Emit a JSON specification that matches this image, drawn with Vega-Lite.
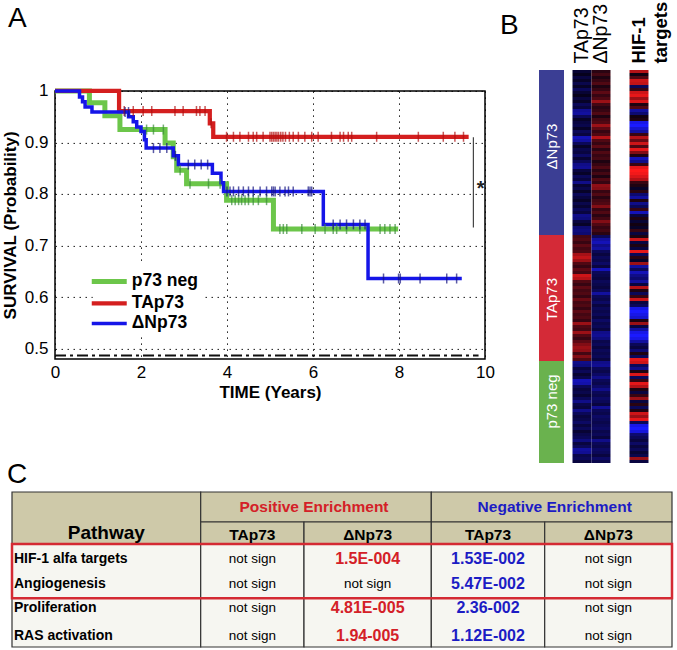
{
  "$schema": "https://vega.github.io/schema/vega-lite/v6.json",
  "background": "white",
  "padding": {"left": 0, "top": 1, "right": 0, "bottom": 0},
  "config": {
    "font": "Liberation Sans",
    "view": {"stroke": null},
    "title": {"font": "Liberation Sans", "fontWeight": "normal", "fontSize": 28, "anchor": "start", "frame": "group", "color": "#000"}
  },
  "datasets": {
    "km": [
      {"t": 0, "s": 1, "series": "p73 neg"}, {"t": 0.80, "s": 0.977, "series": "p73 neg"}, {"t": 1.16, "s": 0.952, "series": "p73 neg"}, {"t": 1.51, "s": 0.925, "series": "p73 neg"}, {"t": 2.56, "s": 0.899, "series": "p73 neg"}, {"t": 2.75, "s": 0.872, "series": "p73 neg"}, {"t": 2.83, "s": 0.846, "series": "p73 neg"}, {"t": 3.06, "s": 0.820, "series": "p73 neg"}, {"t": 3.99, "s": 0.788, "series": "p73 neg"}, {"t": 5.08, "s": 0.732, "series": "p73 neg"}, {"t": 7.98, "s": 0.732, "series": "p73 neg"},
      {"t": 0, "s": 1, "series": "TAp73"}, {"t": 1.49, "s": 0.961, "series": "TAp73"}, {"t": 3.60, "s": 0.937, "series": "TAp73"}, {"t": 3.68, "s": 0.911, "series": "TAp73"}, {"t": 9.62, "s": 0.911, "series": "TAp73"},
      {"t": 0, "s": 1, "series": "ΔNp73"}, {"t": 0.57, "s": 0.988, "series": "ΔNp73"}, {"t": 0.64, "s": 0.979, "series": "ΔNp73"}, {"t": 0.70, "s": 0.969, "series": "ΔNp73"}, {"t": 0.86, "s": 0.959, "series": "ΔNp73"}, {"t": 1.71, "s": 0.950, "series": "ΔNp73"}, {"t": 1.82, "s": 0.940, "series": "ΔNp73"}, {"t": 1.90, "s": 0.930, "series": "ΔNp73"}, {"t": 2.0, "s": 0.921, "series": "ΔNp73"}, {"t": 2.08, "s": 0.905, "series": "ΔNp73"}, {"t": 2.12, "s": 0.889, "series": "ΔNp73"}, {"t": 2.75, "s": 0.874, "series": "ΔNp73"}, {"t": 2.87, "s": 0.857, "series": "ΔNp73"}, {"t": 3.66, "s": 0.840, "series": "ΔNp73"}, {"t": 3.86, "s": 0.822, "series": "ΔNp73"}, {"t": 3.92, "s": 0.805, "series": "ΔNp73"}, {"t": 6.24, "s": 0.741, "series": "ΔNp73"}, {"t": 7.28, "s": 0.636, "series": "ΔNp73"}, {"t": 9.46, "s": 0.636, "series": "ΔNp73"}
    ],
    "cens": [
      {"t": 2.13, "s": 0.925, "series": "p73 neg"}, {"t": 2.29, "s": 0.925, "series": "p73 neg"}, {"t": 2.52, "s": 0.925, "series": "p73 neg"}, {"t": 2.91, "s": 0.846, "series": "p73 neg"}, {"t": 3.14, "s": 0.820, "series": "p73 neg"}, {"t": 3.57, "s": 0.820, "series": "p73 neg"}, {"t": 3.84, "s": 0.820, "series": "p73 neg"},
      {"t": 4.11, "s": 0.788, "series": "p73 neg"}, {"t": 4.19, "s": 0.788, "series": "p73 neg"}, {"t": 4.27, "s": 0.788, "series": "p73 neg"}, {"t": 4.34, "s": 0.788, "series": "p73 neg"}, {"t": 4.42, "s": 0.788, "series": "p73 neg"}, {"t": 4.50, "s": 0.788, "series": "p73 neg"}, {"t": 4.61, "s": 0.788, "series": "p73 neg"}, {"t": 4.73, "s": 0.788, "series": "p73 neg"}, {"t": 4.92, "s": 0.788, "series": "p73 neg"},
      {"t": 5.23, "s": 0.732, "series": "p73 neg"}, {"t": 5.31, "s": 0.732, "series": "p73 neg"}, {"t": 5.39, "s": 0.732, "series": "p73 neg"}, {"t": 5.74, "s": 0.732, "series": "p73 neg"}, {"t": 6.05, "s": 0.732, "series": "p73 neg"}, {"t": 6.28, "s": 0.732, "series": "p73 neg"}, {"t": 6.47, "s": 0.732, "series": "p73 neg"}, {"t": 6.55, "s": 0.732, "series": "p73 neg"}, {"t": 6.78, "s": 0.732, "series": "p73 neg"}, {"t": 7.09, "s": 0.732, "series": "p73 neg"}, {"t": 7.56, "s": 0.732, "series": "p73 neg"}, {"t": 7.67, "s": 0.732, "series": "p73 neg"}, {"t": 7.79, "s": 0.732, "series": "p73 neg"}, {"t": 7.91, "s": 0.732, "series": "p73 neg"},
      {"t": 1.61, "s": 0.961, "series": "TAp73"}, {"t": 1.82, "s": 0.961, "series": "TAp73"}, {"t": 2.05, "s": 0.961, "series": "TAp73"}, {"t": 2.25, "s": 0.961, "series": "TAp73"}, {"t": 2.79, "s": 0.961, "series": "TAp73"}, {"t": 2.98, "s": 0.961, "series": "TAp73"}, {"t": 3.29, "s": 0.961, "series": "TAp73"}, {"t": 3.37, "s": 0.961, "series": "TAp73"}, {"t": 3.49, "s": 0.961, "series": "TAp73"}, {"t": 3.63, "s": 0.937, "series": "TAp73"},
      {"t": 3.99, "s": 0.911, "series": "TAp73"}, {"t": 4.15, "s": 0.911, "series": "TAp73"}, {"t": 4.30, "s": 0.911, "series": "TAp73"}, {"t": 4.50, "s": 0.911, "series": "TAp73"}, {"t": 4.61, "s": 0.911, "series": "TAp73"}, {"t": 4.69, "s": 0.911, "series": "TAp73"}, {"t": 4.84, "s": 0.911, "series": "TAp73"}, {"t": 5.00, "s": 0.911, "series": "TAp73"}, {"t": 5.04, "s": 0.911, "series": "TAp73"}, {"t": 5.08, "s": 0.911, "series": "TAp73"}, {"t": 5.12, "s": 0.911, "series": "TAp73"}, {"t": 5.16, "s": 0.911, "series": "TAp73"}, {"t": 5.20, "s": 0.911, "series": "TAp73"}, {"t": 5.25, "s": 0.911, "series": "TAp73"}, {"t": 5.30, "s": 0.911, "series": "TAp73"}, {"t": 5.36, "s": 0.911, "series": "TAp73"}, {"t": 5.45, "s": 0.911, "series": "TAp73"}, {"t": 5.54, "s": 0.911, "series": "TAp73"}, {"t": 5.66, "s": 0.911, "series": "TAp73"}, {"t": 5.81, "s": 0.911, "series": "TAp73"}, {"t": 5.97, "s": 0.911, "series": "TAp73"}, {"t": 6.12, "s": 0.911, "series": "TAp73"}, {"t": 6.43, "s": 0.911, "series": "TAp73"}, {"t": 6.63, "s": 0.911, "series": "TAp73"}, {"t": 6.71, "s": 0.911, "series": "TAp73"}, {"t": 6.82, "s": 0.911, "series": "TAp73"}, {"t": 6.90, "s": 0.911, "series": "TAp73"}, {"t": 7.48, "s": 0.911, "series": "TAp73"}, {"t": 8.45, "s": 0.911, "series": "TAp73"}, {"t": 9.03, "s": 0.911, "series": "TAp73"}, {"t": 9.30, "s": 0.911, "series": "TAp73"}, {"t": 9.50, "s": 0.911, "series": "TAp73"},
      {"t": 1.63, "s": 0.959, "series": "ΔNp73"}, {"t": 1.71, "s": 0.959, "series": "ΔNp73"}, {"t": 2.29, "s": 0.889, "series": "ΔNp73"}, {"t": 2.44, "s": 0.889, "series": "ΔNp73"}, {"t": 2.60, "s": 0.889, "series": "ΔNp73"}, {"t": 2.80, "s": 0.874, "series": "ΔNp73"}, {"t": 3.10, "s": 0.857, "series": "ΔNp73"}, {"t": 3.25, "s": 0.857, "series": "ΔNp73"}, {"t": 3.40, "s": 0.857, "series": "ΔNp73"}, {"t": 3.55, "s": 0.857, "series": "ΔNp73"},
      {"t": 4.00, "s": 0.805, "series": "ΔNp73"}, {"t": 4.07, "s": 0.805, "series": "ΔNp73"}, {"t": 4.15, "s": 0.805, "series": "ΔNp73"}, {"t": 4.27, "s": 0.805, "series": "ΔNp73"}, {"t": 4.38, "s": 0.805, "series": "ΔNp73"}, {"t": 4.50, "s": 0.805, "series": "ΔNp73"}, {"t": 4.61, "s": 0.805, "series": "ΔNp73"}, {"t": 4.77, "s": 0.805, "series": "ΔNp73"}, {"t": 4.92, "s": 0.805, "series": "ΔNp73"}, {"t": 5.04, "s": 0.805, "series": "ΔNp73"}, {"t": 5.08, "s": 0.805, "series": "ΔNp73"}, {"t": 5.12, "s": 0.805, "series": "ΔNp73"}, {"t": 5.23, "s": 0.805, "series": "ΔNp73"}, {"t": 5.35, "s": 0.805, "series": "ΔNp73"}, {"t": 5.43, "s": 0.805, "series": "ΔNp73"}, {"t": 5.54, "s": 0.805, "series": "ΔNp73"}, {"t": 5.89, "s": 0.805, "series": "ΔNp73"}, {"t": 5.93, "s": 0.805, "series": "ΔNp73"}, {"t": 5.97, "s": 0.805, "series": "ΔNp73"},
      {"t": 6.47, "s": 0.741, "series": "ΔNp73"}, {"t": 6.63, "s": 0.741, "series": "ΔNp73"}, {"t": 6.78, "s": 0.741, "series": "ΔNp73"}, {"t": 6.94, "s": 0.741, "series": "ΔNp73"}, {"t": 7.09, "s": 0.741, "series": "ΔNp73"}, {"t": 7.21, "s": 0.741, "series": "ΔNp73"},
      {"t": 7.64, "s": 0.636, "series": "ΔNp73"}, {"t": 7.99, "s": 0.636, "series": "ΔNp73"}, {"t": 8.03, "s": 0.636, "series": "ΔNp73"}, {"t": 8.49, "s": 0.636, "series": "ΔNp73"}, {"t": 9.11, "s": 0.636, "series": "ΔNp73"}, {"t": 9.34, "s": 0.636, "series": "ΔNp73"}
    ],
    "heat": [
      {"r":0,"g":"ΔNp73","tap73":-0.15,"dnp73":0.15,"hif1":0.7},
      {"r":1,"g":"ΔNp73","tap73":-0.05,"dnp73":0.25,"hif1":0.05},
      {"r":2,"g":"ΔNp73","tap73":-0.2,"dnp73":0.1,"hif1":0.3},
      {"r":3,"g":"ΔNp73","tap73":-0.1,"dnp73":0.2,"hif1":0.8},
      {"r":4,"g":"ΔNp73","tap73":-0.25,"dnp73":0.3,"hif1":0.75},
      {"r":5,"g":"ΔNp73","tap73":-0.1,"dnp73":0.1,"hif1":-0.3},
      {"r":6,"g":"ΔNp73","tap73":-0.3,"dnp73":0.2,"hif1":0.2},
      {"r":7,"g":"ΔNp73","tap73":-0.15,"dnp73":0.35,"hif1":0.8},
      {"r":8,"g":"ΔNp73","tap73":-0.05,"dnp73":0.2,"hif1":0.9},
      {"r":9,"g":"ΔNp73","tap73":-0.2,"dnp73":0.3,"hif1":0.6},
      {"r":10,"g":"ΔNp73","tap73":-0.1,"dnp73":0.6,"hif1":0.85},
      {"r":11,"g":"ΔNp73","tap73":-0.3,"dnp73":0.25,"hif1":0.1},
      {"r":12,"g":"ΔNp73","tap73":-0.2,"dnp73":0.15,"hif1":0.3},
      {"r":13,"g":"ΔNp73","tap73":-0.55,"dnp73":0.2,"hif1":-0.6},
      {"r":14,"g":"ΔNp73","tap73":-0.6,"dnp73":0.3,"hif1":-0.4},
      {"r":15,"g":"ΔNp73","tap73":-0.3,"dnp73":0.1,"hif1":0.05},
      {"r":16,"g":"ΔNp73","tap73":-0.1,"dnp73":0.25,"hif1":0.1},
      {"r":17,"g":"ΔNp73","tap73":-0.2,"dnp73":0.3,"hif1":-0.9},
      {"r":18,"g":"ΔNp73","tap73":-0.25,"dnp73":0.6,"hif1":-1},
      {"r":19,"g":"ΔNp73","tap73":-0.1,"dnp73":0.35,"hif1":-0.8},
      {"r":20,"g":"ΔNp73","tap73":-0.3,"dnp73":0.2,"hif1":-0.6},
      {"r":21,"g":"ΔNp73","tap73":-0.2,"dnp73":0.3,"hif1":0.2},
      {"r":22,"g":"ΔNp73","tap73":-0.7,"dnp73":0.7,"hif1":0.7},
      {"r":23,"g":"ΔNp73","tap73":-0.6,"dnp73":0.3,"hif1":0.4},
      {"r":24,"g":"ΔNp73","tap73":-0.3,"dnp73":0.2,"hif1":0.8},
      {"r":25,"g":"ΔNp73","tap73":-0.1,"dnp73":0.35,"hif1":0.3},
      {"r":26,"g":"ΔNp73","tap73":-0.25,"dnp73":0.15,"hif1":0.9},
      {"r":27,"g":"ΔNp73","tap73":-0.2,"dnp73":0.3,"hif1":0.5},
      {"r":28,"g":"ΔNp73","tap73":-0.35,"dnp73":0.2,"hif1":0.1},
      {"r":29,"g":"ΔNp73","tap73":-0.15,"dnp73":0.25,"hif1":-0.7},
      {"r":30,"g":"ΔNp73","tap73":-0.3,"dnp73":0.1,"hif1":-0.5},
      {"r":31,"g":"ΔNp73","tap73":-0.5,"dnp73":0.2,"hif1":0.2},
      {"r":32,"g":"ΔNp73","tap73":-0.55,"dnp73":0.3,"hif1":0.9},
      {"r":33,"g":"ΔNp73","tap73":-0.2,"dnp73":0.15,"hif1":1},
      {"r":34,"g":"ΔNp73","tap73":-0.1,"dnp73":0.25,"hif1":0.95},
      {"r":35,"g":"ΔNp73","tap73":-0.3,"dnp73":0.1,"hif1":0.85},
      {"r":36,"g":"ΔNp73","tap73":-0.2,"dnp73":0.3,"hif1":0.7},
      {"r":37,"g":"ΔNp73","tap73":-0.5,"dnp73":0.2,"hif1":0.2},
      {"r":38,"g":"ΔNp73","tap73":-0.15,"dnp73":0.55,"hif1":0.1},
      {"r":39,"g":"ΔNp73","tap73":-0.25,"dnp73":0.5,"hif1":-0.1},
      {"r":40,"g":"ΔNp73","tap73":-0.1,"dnp73":0.2,"hif1":0.15},
      {"r":41,"g":"ΔNp73","tap73":-0.3,"dnp73":0.3,"hif1":-0.4},
      {"r":42,"g":"ΔNp73","tap73":-0.2,"dnp73":0.15,"hif1":-0.6},
      {"r":43,"g":"ΔNp73","tap73":-0.1,"dnp73":0.25,"hif1":0.1},
      {"r":44,"g":"ΔNp73","tap73":-0.25,"dnp73":0.3,"hif1":-0.5},
      {"r":45,"g":"ΔNp73","tap73":-0.15,"dnp73":0.5,"hif1":-0.3},
      {"r":46,"g":"ΔNp73","tap73":-0.3,"dnp73":0.2,"hif1":0.2},
      {"r":47,"g":"ΔNp73","tap73":-0.2,"dnp73":0.3,"hif1":-0.7},
      {"r":48,"g":"ΔNp73","tap73":-0.5,"dnp73":0.15,"hif1":-0.2},
      {"r":49,"g":"ΔNp73","tap73":-0.45,"dnp73":0.25,"hif1":0.1},
      {"r":50,"g":"ΔNp73","tap73":-0.2,"dnp73":0.5,"hif1":-0.15},
      {"r":51,"g":"ΔNp73","tap73":-0.1,"dnp73":0.3,"hif1":0.05},
      {"r":52,"g":"ΔNp73","tap73":-0.4,"dnp73":0.2,"hif1":-0.1},
      {"r":53,"g":"ΔNp73","tap73":-0.45,"dnp73":0.25,"hif1":0.2},
      {"r":54,"g":"ΔNp73","tap73":-0.4,"dnp73":0.15,"hif1":-0.2},
      {"r":55,"g":"TAp73","tap73":0.25,"dnp73":-0.3,"hif1":0.1},
      {"r":56,"g":"TAp73","tap73":0.3,"dnp73":-0.6,"hif1":0.8},
      {"r":57,"g":"TAp73","tap73":0.2,"dnp73":-0.7,"hif1":-0.2},
      {"r":58,"g":"TAp73","tap73":0.35,"dnp73":-0.5,"hif1":0.1},
      {"r":59,"g":"TAp73","tap73":0.25,"dnp73":-0.6,"hif1":-0.2},
      {"r":60,"g":"TAp73","tap73":0.3,"dnp73":-0.3,"hif1":0.9},
      {"r":61,"g":"TAp73","tap73":0.65,"dnp73":-0.2,"hif1":-0.3},
      {"r":62,"g":"TAp73","tap73":0.75,"dnp73":-0.3,"hif1":0.15},
      {"r":63,"g":"TAp73","tap73":0.6,"dnp73":-0.25,"hif1":-0.1},
      {"r":64,"g":"TAp73","tap73":0.3,"dnp73":-0.35,"hif1":0.6},
      {"r":65,"g":"TAp73","tap73":0.2,"dnp73":-0.2,"hif1":-0.6},
      {"r":66,"g":"TAp73","tap73":0.35,"dnp73":-0.7,"hif1":-0.3},
      {"r":67,"g":"TAp73","tap73":0.25,"dnp73":-0.3,"hif1":-0.7},
      {"r":68,"g":"TAp73","tap73":0.8,"dnp73":-0.25,"hif1":-0.5},
      {"r":69,"g":"TAp73","tap73":0.7,"dnp73":-0.2,"hif1":-0.4},
      {"r":70,"g":"TAp73","tap73":0.3,"dnp73":-0.3,"hif1":-0.6},
      {"r":71,"g":"TAp73","tap73":0.2,"dnp73":-0.25,"hif1":-0.2},
      {"r":72,"g":"TAp73","tap73":0.35,"dnp73":-0.2,"hif1":0.7},
      {"r":73,"g":"TAp73","tap73":0.25,"dnp73":-0.3,"hif1":0.1},
      {"r":74,"g":"TAp73","tap73":0.3,"dnp73":-0.6,"hif1":-0.3},
      {"r":75,"g":"TAp73","tap73":0.2,"dnp73":-0.3,"hif1":0.2},
      {"r":76,"g":"TAp73","tap73":0.4,"dnp73":-0.25,"hif1":0.8},
      {"r":77,"g":"TAp73","tap73":0.25,"dnp73":-0.35,"hif1":-0.2},
      {"r":78,"g":"TAp73","tap73":0.3,"dnp73":-0.2,"hif1":-0.3},
      {"r":79,"g":"TAp73","tap73":0.2,"dnp73":-0.3,"hif1":-0.9},
      {"r":80,"g":"TAp73","tap73":0.35,"dnp73":-0.25,"hif1":-1},
      {"r":81,"g":"TAp73","tap73":0.25,"dnp73":-0.3,"hif1":-0.9},
      {"r":82,"g":"TAp73","tap73":0.3,"dnp73":-0.2,"hif1":-0.8},
      {"r":83,"g":"TAp73","tap73":0.2,"dnp73":-0.35,"hif1":0.1},
      {"r":84,"g":"TAp73","tap73":0.6,"dnp73":-0.25,"hif1":0.6},
      {"r":85,"g":"TAp73","tap73":0.3,"dnp73":-0.3,"hif1":-0.2},
      {"r":86,"g":"TAp73","tap73":0.25,"dnp73":-0.2,"hif1":-0.6},
      {"r":87,"g":"TAp73","tap73":0.6,"dnp73":-0.5,"hif1":-0.9},
      {"r":88,"g":"TAp73","tap73":0.3,"dnp73":-0.55,"hif1":-1},
      {"r":89,"g":"TAp73","tap73":0.2,"dnp73":-0.45,"hif1":-0.9},
      {"r":90,"g":"TAp73","tap73":0.35,"dnp73":-0.25,"hif1":-0.6},
      {"r":91,"g":"TAp73","tap73":0.5,"dnp73":-0.3,"hif1":-0.3},
      {"r":92,"g":"TAp73","tap73":0.6,"dnp73":-0.2,"hif1":-0.2},
      {"r":93,"g":"TAp73","tap73":0.55,"dnp73":-0.3,"hif1":-0.4},
      {"r":94,"g":"TAp73","tap73":0.25,"dnp73":-0.25,"hif1":0.1},
      {"r":95,"g":"TAp73","tap73":0.5,"dnp73":-0.3,"hif1":-0.3},
      {"r":96,"g":"TAp73","tap73":0.3,"dnp73":-0.2,"hif1":0.9},
      {"r":97,"g":"p73 neg","tap73":-0.5,"dnp73":-0.5,"hif1":0.8},
      {"r":98,"g":"p73 neg","tap73":-0.45,"dnp73":-0.55,"hif1":-0.3},
      {"r":99,"g":"p73 neg","tap73":-0.2,"dnp73":-0.3,"hif1":-0.5},
      {"r":100,"g":"p73 neg","tap73":-0.3,"dnp73":-0.25,"hif1":0.1},
      {"r":101,"g":"p73 neg","tap73":-0.15,"dnp73":-0.35,"hif1":0.85},
      {"r":102,"g":"p73 neg","tap73":-0.25,"dnp73":-0.5,"hif1":-0.3},
      {"r":103,"g":"p73 neg","tap73":-0.7,"dnp73":-0.3,"hif1":0.2},
      {"r":104,"g":"p73 neg","tap73":-0.65,"dnp73":-0.25,"hif1":0.9},
      {"r":105,"g":"p73 neg","tap73":-0.3,"dnp73":-0.35,"hif1":0.7},
      {"r":106,"g":"p73 neg","tap73":-0.2,"dnp73":-0.5,"hif1":0.1},
      {"r":107,"g":"p73 neg","tap73":-0.25,"dnp73":-0.3,"hif1":-0.2},
      {"r":108,"g":"p73 neg","tap73":-0.15,"dnp73":-0.25,"hif1":0.2},
      {"r":109,"g":"p73 neg","tap73":-0.3,"dnp73":-0.35,"hif1":0.6},
      {"r":110,"g":"p73 neg","tap73":-0.5,"dnp73":-0.3,"hif1":-0.2},
      {"r":111,"g":"p73 neg","tap73":-0.25,"dnp73":-0.2,"hif1":0.15},
      {"r":112,"g":"p73 neg","tap73":-0.2,"dnp73":-0.55,"hif1":-0.3},
      {"r":113,"g":"p73 neg","tap73":-0.5,"dnp73":-0.3,"hif1":0.1},
      {"r":114,"g":"p73 neg","tap73":-0.3,"dnp73":-0.25,"hif1":0.8},
      {"r":115,"g":"p73 neg","tap73":-0.2,"dnp73":-0.35,"hif1":0.6},
      {"r":116,"g":"p73 neg","tap73":-0.25,"dnp73":-0.3,"hif1":0.9},
      {"r":117,"g":"p73 neg","tap73":-0.35,"dnp73":-0.25,"hif1":-0.3},
      {"r":118,"g":"p73 neg","tap73":-0.2,"dnp73":-0.3,"hif1":-0.9},
      {"r":119,"g":"p73 neg","tap73":-0.3,"dnp73":-0.35,"hif1":-1},
      {"r":120,"g":"p73 neg","tap73":-0.15,"dnp73":-0.25,"hif1":-0.85},
      {"r":121,"g":"p73 neg","tap73":-0.25,"dnp73":-0.3,"hif1":-0.4},
      {"r":122,"g":"p73 neg","tap73":-0.3,"dnp73":-0.2,"hif1":-0.3},
      {"r":123,"g":"p73 neg","tap73":-0.45,"dnp73":-0.5,"hif1":-0.2},
      {"r":124,"g":"p73 neg","tap73":-0.2,"dnp73":-0.3,"hif1":-0.35},
      {"r":125,"g":"p73 neg","tap73":-0.3,"dnp73":-0.25,"hif1":-0.2},
      {"r":126,"g":"p73 neg","tap73":-0.6,"dnp73":-0.35,"hif1":-0.3},
      {"r":127,"g":"p73 neg","tap73":-0.55,"dnp73":-0.3,"hif1":-0.15},
      {"r":128,"g":"p73 neg","tap73":-0.25,"dnp73":-0.2,"hif1":-0.25},
      {"r":129,"g":"p73 neg","tap73":-0.3,"dnp73":-0.35,"hif1":0.6},
      {"r":130,"g":"p73 neg","tap73":-0.2,"dnp73":-0.25,"hif1":-0.2}
    ],
    "glab": [
      {"r": 25, "label": "ΔNp73"}, {"r": 76, "label": "TAp73"}, {"r": 110, "label": "p73 neg"}
    ],
    "cells": [
      {"c0":0,"c1":1,"r0":0,"r1":2,"kind":"head"},
      {"c0":1,"c1":3,"r0":0,"r1":1,"kind":"head"},
      {"c0":3,"c1":5,"r0":0,"r1":1,"kind":"head"},
      {"c0":1,"c1":2,"r0":1,"r1":2,"kind":"head"},
      {"c0":2,"c1":3,"r0":1,"r1":2,"kind":"head"},
      {"c0":3,"c1":4,"r0":1,"r1":2,"kind":"head"},
      {"c0":4,"c1":5,"r0":1,"r1":2,"kind":"head"},
      {"c0":0,"c1":1,"r0":2,"r1":6,"kind":"body"},
      {"c0":1,"c1":2,"r0":2,"r1":6,"kind":"body"},
      {"c0":2,"c1":3,"r0":2,"r1":6,"kind":"body"},
      {"c0":3,"c1":4,"r0":2,"r1":6,"kind":"body"},
      {"c0":4,"c1":5,"r0":2,"r1":6,"kind":"body"}
    ],
    "texts": [
      {"cx":0.5,"ry":1.5,"t":"Pathway","w":"path","k":"plain"},
      {"cx":2,"ry":0.5,"t":"Positive Enrichment","w":"enr","k":"pos"},
      {"cx":4,"ry":0.5,"t":"Negative Enrichment","w":"enr","k":"neg"},
      {"cx":1.5,"ry":1.5,"t":"TAp73","w":"sub","k":"plain"},
      {"cx":2.5,"ry":1.5,"t":"ΔNp73","w":"sub","k":"plain"},
      {"cx":3.5,"ry":1.5,"t":"TAp73","w":"sub","k":"plain"},
      {"cx":4.5,"ry":1.5,"t":"ΔNp73","w":"sub","k":"plain"},
      {"cx":0,"ry":2.5,"t":"HIF-1 alfa targets","w":"name","k":"plain"},
      {"cx":0,"ry":3.5,"t":"Angiogenesis","w":"name","k":"plain"},
      {"cx":0,"ry":4.5,"t":"Proliferation","w":"name","k":"plain"},
      {"cx":0,"ry":5.5,"t":"RAS activation","w":"name","k":"plain"},
      {"cx":2.5,"ry":2.5,"t":"1.5E-004","w":"val","k":"pos"},
      {"cx":3.5,"ry":2.5,"t":"1.53E-002","w":"val","k":"neg"},
      {"cx":3.5,"ry":3.5,"t":"5.47E-002","w":"val","k":"neg"},
      {"cx":2.5,"ry":4.5,"t":"4.81E-005","w":"val","k":"pos"},
      {"cx":3.5,"ry":4.5,"t":"2.36-002","w":"val","k":"neg"},
      {"cx":2.5,"ry":5.5,"t":"1.94-005","w":"val","k":"pos"},
      {"cx":3.5,"ry":5.5,"t":"1.12E-002","w":"val","k":"neg"},
      {"cx":1.5,"ry":2.5,"t":"not sign","w":"ns","k":"plain"},
      {"cx":1.5,"ry":3.5,"t":"not sign","w":"ns","k":"plain"},
      {"cx":1.5,"ry":4.5,"t":"not sign","w":"ns","k":"plain"},
      {"cx":1.5,"ry":5.5,"t":"not sign","w":"ns","k":"plain"},
      {"cx":2.5,"ry":3.5,"t":"not sign","w":"ns","k":"plain"},
      {"cx":4.5,"ry":2.5,"t":"not sign","w":"ns","k":"plain"},
      {"cx":4.5,"ry":3.5,"t":"not sign","w":"ns","k":"plain"},
      {"cx":4.5,"ry":4.5,"t":"not sign","w":"ns","k":"plain"},
      {"cx":4.5,"ry":5.5,"t":"not sign","w":"ns","k":"plain"}
    ]
  },
  "columns": 1,
  "align": "none",
  "spacing": -2,
  "resolve": {"scale": {"color": "independent", "fill": "independent", "stroke": "independent", "strokeWidth": "independent"}},
  "concat": [
    {
      "spacing": 4,
      "resolve": {"scale": {"color": "independent", "fill": "independent", "stroke": "independent", "strokeWidth": "independent"}},
      "hconcat": [
        {
          "spacing": 2.9,
          "resolve": {"scale": {"color": "independent", "stroke": "independent", "strokeWidth": "independent"}},
          "vconcat": [
            {
              "width": 430,
              "height": 4,
              "title": {"text": "A", "dx": -47, "offset": 33},
              "data": {"values": [{}]},
              "mark": {"type": "text", "text": ""}
            },
            {
              "width": 430,
              "height": 268,
              "view": {"stroke": "#000", "strokeWidth": 1.5},
              "layer": [
                {
                  "data": {"name": "km"},
                  "mark": {"type": "line", "interpolate": "step-after"},
                  "encoding": {
                    "x": {"field": "t", "type": "quantitative", "scale": {"domain": [0, 10], "nice": false},
                      "axis": {"values": [0, 2, 4, 6, 8, 10], "grid": true, "gridDash": [1.5, 4.5], "gridColor": "#000", "gridOpacity": 0.9, "domain": false, "ticks": false, "labelFontSize": 17, "labelColor": "#000", "labelPadding": 6, "labelFlush": false, "title": "TIME (Years)", "titleFontSize": 17, "titleFontWeight": "bold", "titleColor": "#000", "titlePadding": 4}},
                    "y": {"field": "s", "type": "quantitative", "scale": {"domain": [0.48, 1], "nice": false, "zero": false},
                      "axis": {"values": [0.5, 0.6, 0.7, 0.8, 0.9, 1], "format": "~g", "grid": true, "gridDash": [1.5, 4.5], "gridColor": "#000", "gridOpacity": 0.9, "domain": false, "ticks": false, "labelFontSize": 17, "labelColor": "#000", "labelPadding": 7, "labelFlush": false, "title": "SURVIVAL (Probability)", "titleFontSize": 17, "titleFontWeight": "bold", "titleColor": "#000", "titlePadding": 5}},
                    "stroke": {"field": "series", "type": "nominal", "scale": {"domain": ["p73 neg", "TAp73", "ΔNp73"], "range": ["#6cc64a", "#d41f1f", "#1515e8"]},
                      "legend": {"orient": "none", "legendX": 37.75, "legendY": 174, "title": null, "padding": 5, "fillColor": "#ffffff", "labelFontSize": 17.5, "labelFontWeight": "bold", "labelColor": "#000", "symbolType": "M-2,0H2", "symbolSize": 306, "symbolStrokeWidth": 4.5, "labelOffset": 11, "rowPadding": 0.5}},
                    "strokeWidth": {"field": "series", "type": "nominal", "scale": {"domain": ["p73 neg", "TAp73", "ΔNp73"], "range": [5, 3.5, 5]}, "legend": null}
                  }
                },
                {
                  "data": {"name": "cens"},
                  "mark": {"type": "tick", "orient": "vertical", "size": 10, "thickness": 1.5},
                  "encoding": {
                    "x": {"field": "t", "type": "quantitative"},
                    "y": {"field": "s", "type": "quantitative"},
                    "color": {"field": "series", "type": "nominal", "scale": {"domain": ["p73 neg", "TAp73", "ΔNp73"], "range": ["#3a8c3a", "#b01010", "#141480"]}, "legend": null}
                  }
                },
                {
                  "data": {"values": [{}]},
                  "mark": {"type": "rule", "strokeDash": [11, 4, 3, 4], "strokeWidth": 2, "color": "#111"},
                  "encoding": {"x": {"datum": 0}, "x2": {"datum": 9.85}, "y": {"datum": 0.4865}}
                },
                {
                  "data": {"values": [{}]},
                  "mark": {"type": "rule", "color": "#444", "strokeWidth": 1.2},
                  "encoding": {"x": {"datum": 9.73}, "y": {"datum": 0.735}, "y2": {"datum": 0.91}}
                },
                {
                  "data": {"values": [{}]},
                  "mark": {"type": "text", "text": "*", "fontSize": 20, "fontWeight": "bold", "color": "#222"},
                  "encoding": {"x": {"datum": 9.9}, "y": {"datum": 0.81}}
                }
              ]
            }
          ]
        },
        {
          "bounds": "flush",
          "spacing": 8.5,
          "resolve": {"scale": {"color": "independent", "y": "independent"}},
          "hconcat": [
            {
              "width": 25,
              "height": 393,
              "title": {"text": "B", "dx": -39, "offset": 30},
              "layer": [
                {
                  "data": {"name": "heat"},
                  "mark": {"type": "rect"},
                  "encoding": {
                    "y": {"field": "r", "type": "ordinal", "scale": {"paddingInner": 0, "paddingOuter": 0}, "axis": null},
                    "color": {"field": "g", "type": "nominal", "scale": {"domain": ["ΔNp73", "TAp73", "p73 neg"], "range": ["#3b3e94", "#d42a37", "#6ab24e"]}, "legend": null}
                  }
                },
                {
                  "data": {"name": "glab"},
                  "mark": {"type": "text", "angle": 270, "color": "#ffffff", "fontSize": 15},
                  "encoding": {
                    "y": {"field": "r", "type": "ordinal"},
                    "text": {"field": "label"}
                  }
                }
              ]
            },
            {
              "width": 76,
              "height": 393,
              "data": {"name": "heat"},
              "transform": [{"fold": ["tap73", "dnp73", "hif1"], "as": ["col", "v"]}],
              "mark": {"type": "rect"},
              "encoding": {
                "x": {"field": "col", "type": "nominal", "scale": {"domain": ["tap73", "dnp73", "gap", "hif1"], "paddingInner": 0, "paddingOuter": 0},
                  "axis": {"orient": "top", "title": null, "domain": false, "ticks": false, "labelAngle": -90, "labelPadding": 7, "labelColor": "#000",
                    "labelExpr": "datum.value === 'tap73' ? 'TAp73' : datum.value === 'dnp73' ? 'ΔNp73' : datum.value === 'hif1' ? ['HIF-1', 'targets'] : ''",
                    "labelFontSize": {"condition": {"test": "datum.value === 'hif1'", "value": 18.5}, "value": 19.5},
                    "labelFontWeight": {"condition": {"test": "datum.value === 'hif1'", "value": "bold"}, "value": "normal"},
                    "labelLineHeight": 22}},
                "y": {"field": "r", "type": "ordinal", "scale": {"paddingInner": 0, "paddingOuter": 0}, "axis": null},
                "color": {"field": "v", "type": "quantitative", "scale": {"domain": [-1, 0, 1], "range": ["#1a1aff", "#050010", "#ff1a1a"], "interpolate": "rgb"}, "legend": null}
              }
            }
          ]
        }
      ]
    },
    {
      "width": 617,
      "height": 155,
      "title": {"text": "C", "dx": -48, "offset": 2},
      "layer": [
        {
          "data": {"name": "cells"},
          "mark": {"type": "rect", "stroke": "#333", "strokeWidth": 1.2},
          "encoding": {
            "x": {"field": "c0", "type": "quantitative", "scale": {"domain": [0, 1, 2, 3, 4, 5], "range": [-43, 145.7, 249, 376.3, 489.7, 617], "nice": false, "zero": false}, "axis": null},
            "x2": {"field": "c1"},
            "y": {"field": "r0", "type": "quantitative", "scale": {"domain": [0, 1, 2, 2.5, 3.5, 4, 4.5, 5.5, 6], "range": [0, 30, 52, 67, 91.5, 106.3, 116, 144, 155], "nice": false, "zero": false}, "axis": null},
            "y2": {"field": "r1"},
            "fill": {"field": "kind", "type": "nominal", "scale": {"domain": ["head", "body"], "range": ["#cec9a9", "#f6f6f1"]}, "legend": null}
          }
        },
        {
          "data": {"values": [{"c0": 0, "c1": 5, "r0": 2, "r1": 4}]},
          "mark": {"type": "rect", "fill": null, "stroke": "#d42a33", "strokeWidth": 2.5},
          "encoding": {
            "x": {"field": "c0", "type": "quantitative"}, "x2": {"field": "c1"},
            "y": {"field": "r0", "type": "quantitative"}, "y2": {"field": "r1"}
          }
        },
        {
          "data": {"name": "texts"},
          "transform": [{"filter": "datum.w === 'path'"}],
          "mark": {"type": "text", "fontSize": 19, "fontWeight": "bold"},
          "encoding": {
            "x": {"field": "cx", "type": "quantitative"}, "y": {"field": "ry", "type": "quantitative"},
            "text": {"field": "t"},
            "color": {"field": "k", "type": "nominal", "scale": {"domain": ["pos", "neg", "plain"], "range": ["#d42027", "#1c1cc4", "#000000"]}, "legend": null}
          }
        },
        {
          "data": {"name": "texts"},
          "transform": [{"filter": "datum.w === 'enr'"}],
          "mark": {"type": "text", "fontSize": 15.5, "fontWeight": "bold", "dx": 10},
          "encoding": {
            "x": {"field": "cx", "type": "quantitative"}, "y": {"field": "ry", "type": "quantitative"},
            "text": {"field": "t"},
            "color": {"field": "k", "type": "nominal", "legend": null}
          }
        },
        {
          "data": {"name": "texts"},
          "transform": [{"filter": "datum.w === 'sub'"}],
          "mark": {"type": "text", "fontSize": 15.5, "fontWeight": "bold", "dy": 2},
          "encoding": {
            "x": {"field": "cx", "type": "quantitative"}, "y": {"field": "ry", "type": "quantitative"},
            "text": {"field": "t"},
            "color": {"field": "k", "type": "nominal", "legend": null}
          }
        },
        {
          "data": {"name": "texts"},
          "transform": [{"filter": "datum.w === 'name'"}],
          "mark": {"type": "text", "fontSize": 14, "fontWeight": "bold", "align": "left", "dx": 2},
          "encoding": {
            "x": {"field": "cx", "type": "quantitative"}, "y": {"field": "ry", "type": "quantitative"},
            "text": {"field": "t"},
            "color": {"field": "k", "type": "nominal", "legend": null}
          }
        },
        {
          "data": {"name": "texts"},
          "transform": [{"filter": "datum.w === 'val'"}],
          "mark": {"type": "text", "fontSize": 16, "fontWeight": "bold"},
          "encoding": {
            "x": {"field": "cx", "type": "quantitative"}, "y": {"field": "ry", "type": "quantitative"},
            "text": {"field": "t"},
            "color": {"field": "k", "type": "nominal", "legend": null}
          }
        },
        {
          "data": {"name": "texts"},
          "transform": [{"filter": "datum.w === 'ns'"}],
          "mark": {"type": "text", "fontSize": 13.5},
          "encoding": {
            "x": {"field": "cx", "type": "quantitative"}, "y": {"field": "ry", "type": "quantitative"},
            "text": {"field": "t"},
            "color": {"field": "k", "type": "nominal", "legend": null}
          }
        }
      ]
    }
  ]
}
